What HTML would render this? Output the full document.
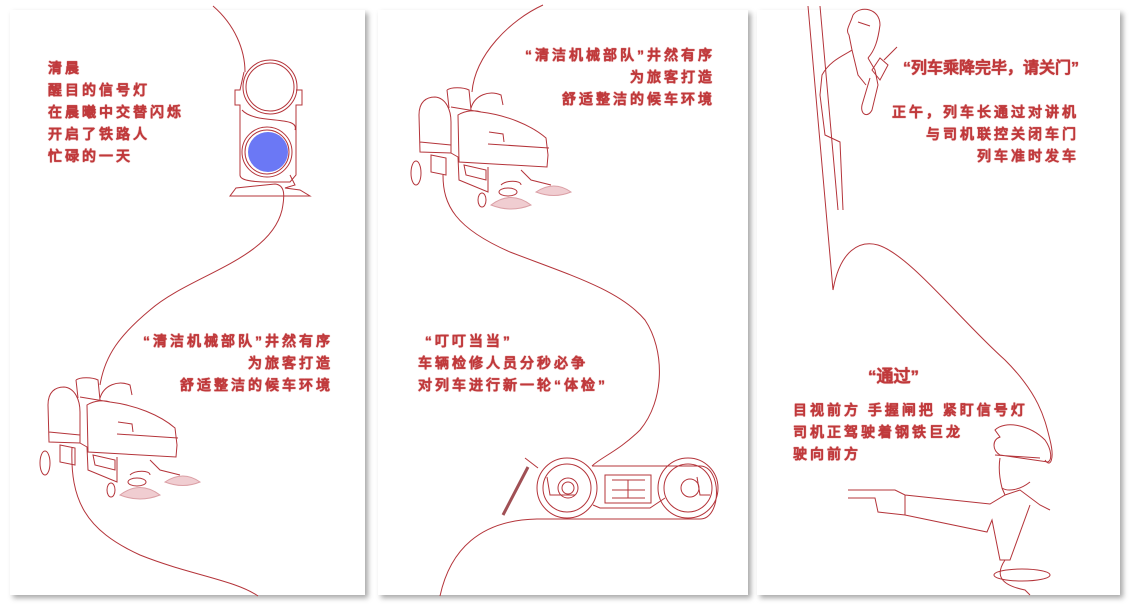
<!DOCTYPE html>
<html><head><meta charset="utf-8"><style>
body{margin:0;width:1135px;height:608px;background:#fff;position:relative;overflow:hidden;font-family:"Liberation Sans","WenQuanYi Zen Hei",sans-serif}
.p{position:absolute;top:10px;height:585px;background:#fff;box-shadow:3px 3px 5px rgba(0,0,0,.35)}
.t{position:absolute;color:#c0393b;font-weight:bold;font-size:14px;letter-spacing:3px;line-height:22px;white-space:nowrap;text-shadow:0 0 1px #c0393b,0 0 .5px #c0393b}
.r{text-align:right}
svg{position:absolute;left:0;top:0}
</style></head><body>
<div class="p" style="left:10px;width:355px"></div>
<div class="p" style="left:378px;width:370px"></div>
<div class="p" style="left:757px;width:363px"></div>

<div class="t" style="left:48px;top:57px">清晨<br>醒目的信号灯<br>在晨曦中交替闪烁<br>开启了铁路人<br>忙碌的一天</div>
<div class="t r" style="right:802px;top:330px">“清洁机械部队”井然有序<br>为旅客打造<br>舒适整洁的候车环境</div>
<div class="t r" style="right:420px;top:44px">“清洁机械部队”井然有序<br>为旅客打造<br>舒适整洁的候车环境</div>
<div class="t" style="left:418px;top:330px">&nbsp;“叮叮当当”<br>车辆检修人员分秒必争<br>对列车进行新一轮“体检”</div>
<div class="t r" style="right:56px;top:58px;font-size:16px;letter-spacing:0">“列车乘降完毕，请关门”</div>
<div class="t r" style="right:56px;top:101px">正午，列车长通过对讲机<br>与司机联控关闭车门<br>列车准时发车</div>
<div class="t" style="left:868px;top:366px;font-size:17px;letter-spacing:0">“通过”</div>
<div class="t" style="left:793px;top:399px">目视前方 手握闸把 紧盯信号灯<br>司机正驾驶着钢铁巨龙<br>驶向前方</div>

<svg width="1135" height="608" fill="none" stroke="#b4343a" stroke-width="1">
<defs>
<g id="cl">
<path d="M49 442 L48 405 C48 392 55 387 64 387 C75 388 80 400 80 412 L80 443 Z M49 432 L80 435"/>
<path d="M76 380 C80 377 92 377 98 380 L100 400 M76 380 L78 398"/>
<path d="M100 398 C104 385 118 380 130 385 L132 395"/>
<path d="M80 397 L110 402 C135 405 160 415 175 428 L177 445 L176 457 L88 452 L87 405 C95 400 105 400 110 402"/>
<path d="M118 422 L132 424 L133 432 M117 434 L178 438"/>
<path d="M80 443 L87 447 L88 470 L117 482 L117 457 M93 455 L115 460 L115 470 L95 465 Z M60 445 L75 448 L75 465 L60 462 Z"/>
<path d="M150 460 L160 470 L180 475 M130 475 C135 470 150 470 150 475"/>
<ellipse cx="45" cy="463" rx="5" ry="12"/>
<ellipse cx="111" cy="490" rx="4" ry="7"/>
<ellipse cx="137" cy="482" rx="9" ry="4"/>
<path d="M120 495 Q140 480 160 495 Q140 503 120 495 Z" fill="#f0cdd1" stroke="#dba0a6"/>
<path d="M165 482 Q183 470 200 482 Q183 489 165 482 Z" fill="#f0cdd1" stroke="#dba0a6"/>
</g>
</defs>
<!-- panel1 -->
<path d="M213 6 C235 25 245 50 245 72"/>
<circle cx="270" cy="87" r="27"/><circle cx="270" cy="87" r="24"/>
<path d="M244 72 L240 90 L235 90 L235 105 L240 105 L240 175 C240 180 250 182 270 182 L290 182 L296 175 L296 105 L302 105 L302 90 L296 90"/>
<path d="M242 110 C255 125 300 115 295 130"/>
<circle cx="267" cy="152" r="25"/><circle cx="267" cy="152" r="22"/>
<circle cx="268" cy="152" r="20" fill="#6b78f5" stroke="none"/>
<path d="M290 175 L295 185 L285 188 L300 190 L310 196 L230 196 L236 188 L275 184 C285 185 285 195 282 210 C270 260 190 275 150 310 C120 335 105 355 100 385"/>
<use href="#cl"/>
<path d="M72 447 C70 500 85 530 140 555 C190 575 235 580 258 596"/>
<!-- panel2 -->
<use href="#cl" transform="translate(371,-290)"/>
<path d="M543 5 C510 20 475 55 472 92"/>
<path d="M443 175 C443 205 455 228 510 252 C570 275 620 290 645 320 C665 350 665 400 640 430 C620 450 600 458 592 466"/>
<circle cx="567" cy="488" r="30"/><circle cx="567" cy="488" r="24"/><circle cx="568" cy="488" r="10"/><circle cx="568" cy="488" r="6"/>
<circle cx="688" cy="488" r="30"/><circle cx="688" cy="488" r="24"/><circle cx="690" cy="488" r="9"/>
<path d="M592 466 L700 466 C722 466 722 519 700 519 L537 519 C480 520 450 550 440 596"/>
<rect x="605" y="475" width="46" height="28"/><path d="M612 480 L645 480 M612 490 L645 490 M612 498 L645 498 M628 480 L628 498"/>
<path d="M593 505 L600 508 L650 508 L665 498"/>
<path d="M547 477 L550 495 L575 495 M697 477 L700 495 L710 495"/>
<line x1="503" y1="515" x2="528" y2="467" stroke="#a05055" stroke-width="3"/>
<path d="M525 458 L538 468"/>
<!-- panel3 -->
<path d="M808 6 L833 290 C840 250 860 240 878 245 C910 255 960 320 1005 360 C1040 395 1045 420 1050 440 C1055 460 1050 468 1045 460"/>
<path d="M820 6 L838 210"/>
<path d="M853 15 C860 5 880 8 880 25 C878 40 875 50 868 58 M853 15 C850 25 845 30 849 35 L852 50 C845 55 830 60 822 75 L820 95 L825 135 L840 142 L843 210 M858 22 L870 26"/>
<path d="M868 58 L875 70 L878 85 L872 110 C868 118 860 115 862 105 L870 78 M852 50 L858 75 L866 85"/>
<path d="M872 70 L880 58 L888 65 L880 80 Z M884 60 L897 47"/>
<path d="M995 430 C1005 420 1030 425 1045 440 C1052 450 1052 460 1048 462 L1000 455 C992 450 992 440 1000 437 Z M995 455 L1040 458"/>
<path d="M1000 458 C998 470 1000 480 1002 488 C1008 492 1020 490 1030 482 M1002 488 L1005 495"/>
<path d="M848 490 L895 490 L905 495 L990 504 L1005 495 L1020 490 L1040 505 L1050 510 M848 498 L875 498 L878 512 L905 515 L987 532 L992 520 L1000 560 L1010 560 L1030 505 M905 495 L905 515"/>
<ellipse cx="1022" cy="575" rx="28" ry="6"/>
<path d="M1005 560 C995 575 1000 585 1025 590 L1030 595"/>
</svg>
</body></html>
